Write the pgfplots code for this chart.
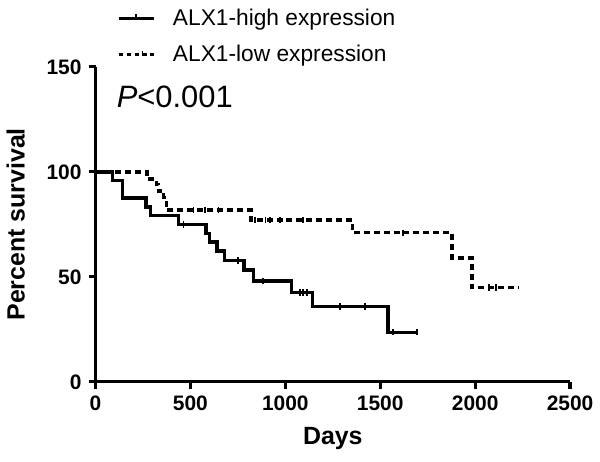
\documentclass[border=0pt]{standalone}
\usepackage{pgfplots}
\pgfplotsset{compat=1.18}
\usepackage{fontspec}
\setmainfont{Liberation Sans}
\begin{document}
\begin{tikzpicture}
\begin{axis}[
  scale only axis,
  width=238pt, height=158pt,
  xmin=0, xmax=2500, ymin=0, ymax=150,
  axis lines=left,
  axis line style={line width=1.6pt, -},
  xtick={0,500,1000,1500,2000,2500},
  ytick={0,50,100,150},
  tick style={line width=1.6pt, black},
  tick align=outside,
  major tick length=3.5pt,
  /pgf/number format/assume math mode=true,
  /pgf/number format/1000 sep={},
  tick label style={font=\fontsize{10.5}{12}\selectfont\bfseries},
  xlabel={Days},
  ylabel={Percent survival},
  label style={font=\fontsize{12.5}{14}\selectfont\bfseries},
  xlabel style={at={(axis description cs:0.5,-0.18)}, anchor=center},
  ylabel style={at={(axis description cs:-0.168,0.5)}, anchor=center, rotate=0},
  legend style={at={(axis description cs:0.045,1.0)}, anchor=south west,
    draw=none, fill=none, inner sep=0pt,
    font=\fontsize{11.4}{13.5}\selectfont, row sep=6.5pt,
    nodes={inner sep=1pt},
    /tikz/every odd column/.append style={column sep=8pt}},
  legend cell align=left,
  clip=false,
]
\addplot[const plot, black, line width=1.7pt,
  legend image code/.code={\draw[black, line width=1.3pt] (0cm,0cm) -- (0.62cm,0cm); \draw[black, line width=0.8pt] (0.31cm,0cm) -- (0.31cm,2pt);}]
coordinates {(0,100)(88,95.8)(143,87.5)(266,83.3)(289,79.2)(438,75.0)(581,70.5)(599,66.5)(639,62.3)(678,57.8)(783,53.2)(832,48.1)(1033,42.6)(1143,35.9)(1541,23.6)(1694,23.6)};
\addlegendentry{ALX1-high expression}
\addplot[const plot, black, line width=1.7pt, dash pattern=on 3pt off 2pt,
  legend image code/.code={\draw[black, line width=1.3pt, dash pattern=on 2.2pt off 1.8pt] (0cm,0cm) -- (0.62cm,0cm); \draw[black, line width=0.8pt] (0.42cm,0cm) -- (0.42cm,2pt);}]
coordinates {(0,100)(271,96.6)(320,94.0)(332,90.8)(359,87.8)(373,81.8)(820,77.0)(1353,71.0)(1877,58.9)(1984,44.9)(2229,44.9)};
\addlegendentry{ALX1-low expression}
\addplot[only marks, mark=|, mark size=1.6pt, mark options={line width=0.9pt, black}, forget plot]
coordinates {(464,75.0)(749,57.8)(884,48.1)(1077,42.6)(1095,42.6)(1112,42.6)(1287,35.9)(1418,35.9)(1567,23.6)(1694,23.6)};
\addplot[only marks, mark=|, mark size=1.6pt, mark options={line width=0.9pt, black}, forget plot]
coordinates {(516,81.8)(578,81.8)(648,81.8)(840,77.0)(895,77.0)(919,77.0)(971,77.0)(1094,77.0)(1619,71.0)(2074,44.9)(2110,44.9)};
\node[anchor=west, font=\fontsize{15.5}{17}\selectfont] at (axis description cs:0.03,0.905) {\textit{P}<0.001};
\end{axis}
\path (-47.5pt,-40pt) rectangle (252.5pt,191.5pt);
\end{tikzpicture}
\end{document}
